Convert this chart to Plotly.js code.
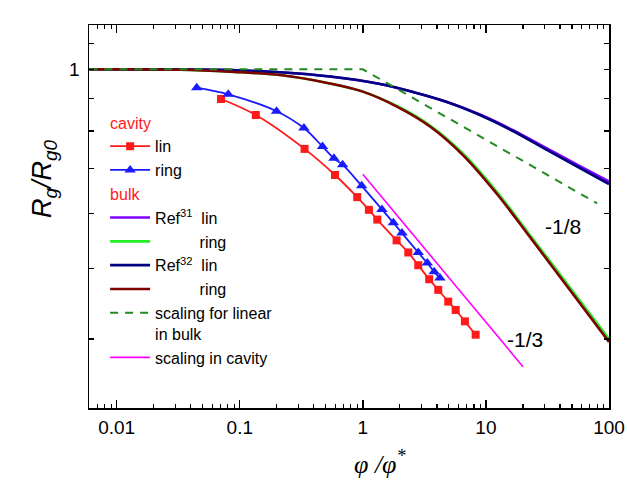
<!DOCTYPE html>
<html><head><meta charset="utf-8">
<script src="https://cdn.plot.ly/plotly-3.0.1.min.js"></script>
<style>html,body{margin:0;padding:0;background:#fff}#chart{width:627px;height:483px}</style>
</head><body><div id="chart"></div>
<script>
// ---- data ----
const cavLinX = [0.0704, 0.135, 0.336, 0.594, 0.90, 1.12, 1.31, 1.88, 2.34, 2.82, 3.46, 4.10, 4.94, 5.68, 6.75, 8.25];
const cavLinY = [0.886, 0.830, 0.723, 0.650, 0.594, 0.564, 0.542, 0.498, 0.474, 0.450, 0.425, 0.407, 0.388, 0.375, 0.358, 0.339];

const cavRingX = [0.0447, 0.0806, 0.199, 0.332, 0.470, 0.582, 0.685, 0.978, 1.43, 1.77, 2.08, 2.82, 3.34, 3.80, 4.23];
const cavRingY = [0.928, 0.903, 0.843, 0.787, 0.730, 0.696, 0.678, 0.622, 0.565, 0.535, 0.513, 0.474, 0.454, 0.438, 0.427];

const refLinX   = [0.006, 0.0327, 0.0833, 0.212, 0.540, 1.38, 2.55, 4.82, 8.93, 16.6, 31.3, 58.0, 100];
const ref31LinY = [1, 0.9992, 0.9971, 0.9879, 0.9711, 0.9418, 0.9117, 0.8752, 0.8318, 0.7805, 0.7242, 0.6741, 0.6328];
const ref32LinY = [1, 0.9992, 0.9971, 0.9879, 0.9711, 0.9418, 0.9117, 0.8752, 0.8300, 0.7776, 0.7198, 0.6688, 0.6266];

const refRingX   = [0.006, 0.0327, 0.0833, 0.212, 0.540, 1.0, 1.89, 3.51, 6.50, 12.3, 21.5, 50.9, 100];
const ref31RingY = [1, 0.998, 0.990, 0.977, 0.944, 0.913, 0.861, 0.7953, 0.7096, 0.6065, 0.5174, 0.4043, 0.3332];
const ref32RingY = [1, 0.998, 0.990, 0.977, 0.944, 0.913, 0.859, 0.792, 0.705, 0.6015, 0.5133, 0.4002, 0.3292];

const scaleBulkX = [0.006, 1, 80];
const scaleBulkY = [1, 1, 0.579];
const scaleCavX = [1, 20];
const scaleCavY = [0.652, 0.2976];

const xTickVals = [0.01, 0.1, 1, 10, 100];
const xTickText = ['0.01', '0.1', '1', '10', '100'];
const yTickVals = [1];
const yTickText = ['1'];
const yMinorVals = [10/9, 8/9, 7/9, 6/9, 5/9, 4/9, 3/9];

// minor x ticks (2..9 in each decade)
const xMinor = [];
for (let d = -3; d <= 1; d++) for (let k = 2; k <= 9; k++) {
  const v = k * Math.pow(10, d);
  if (v > 0.0059 && v < 100) xMinor.push(v);
}

const F = 'Liberation Sans, Arial, sans-serif';
const nb = '\u00a0';
const LF = 16;

const traces = [
  {x: cavLinX, y: cavLinY, mode: 'lines+markers', name: 'lin',
   legendgroup: 'cavity', legendgrouptitle: {text: 'cavity', font: {color: '#ff1a1a', size: LF, family: F}},
   line: {color: '#ff1a1a', width: 1.8, shape: 'spline'}, marker: {symbol: 'square', size: 8, color: '#ff1a1a'}},
  {x: cavRingX, y: cavRingY, mode: 'lines+markers', name: 'ring',
   legendgroup: 'cavity',
   line: {color: '#1a1aff', width: 1.8, shape: 'spline'}, marker: {symbol: 'triangle-up', size: 10, color: '#1a1aff'}},
  {x: refLinX, y: ref31LinY, mode: 'lines', name: 'Ref<sup>31</sup>' + nb + nb + 'lin',
   legendgroup: 'bulk', legendgrouptitle: {text: 'bulk', font: {color: '#ff1a1a', size: LF, family: F}},
   line: {color: '#8000ff', width: 2.6, shape: 'spline'}},
  {x: refRingX, y: ref31RingY, mode: 'lines', name: nb.repeat(10) + 'ring',
   legendgroup: 'bulk',
   line: {color: '#22ee22', width: 2.6, shape: 'spline'}},
  {x: refLinX, y: ref32LinY, mode: 'lines', name: 'Ref<sup>32</sup>' + nb + nb + 'lin',
   legendgroup: 'bulk',
   line: {color: '#000080', width: 2.6, shape: 'spline'}},
  {x: refRingX, y: ref32RingY, mode: 'lines', name: nb.repeat(10) + 'ring',
   legendgroup: 'bulk',
   line: {color: '#800000', width: 2.6, shape: 'spline'}},
  {x: scaleBulkX, y: scaleBulkY, mode: 'lines', name: 'scaling for linear<br>in bulk',
   legendgroup: 'bulk',
   line: {color: '#228b22', width: 2, dash: '8px,7px'}},
  {x: scaleCavX, y: scaleCavY, mode: 'lines', name: 'scaling in cavity',
   legendgroup: 'bulk',
   line: {color: '#ff00ff', width: 1.6}}
];

const layout = {
  width: 627, height: 483,
  margin: {l: 89, r: 18, t: 25, b: 75},
  paper_bgcolor: '#ffffff', plot_bgcolor: '#ffffff',
  font: {family: F, size: 18, color: '#000'},
  showlegend: true,
  legend: {x: 0.031, y: 0.79, xanchor: 'left', yanchor: 'top', bgcolor: 'rgba(0,0,0,0)',
           font: {family: F, size: LF, color: '#000'}, tracegroupgap: 0, valign: 'top',
           traceorder: 'grouped', itemwidth: 40},
  xaxis: {type: 'log', range: [-2.225, 2.0], showgrid: false, zeroline: false,
          showline: true, linecolor: '#000', linewidth: 1.5, mirror: 'allticks',
          ticks: 'inside', ticklen: 8, tickwidth: 1.3, tickcolor: '#000',
          tickmode: 'array', tickvals: xTickVals, ticktext: xTickText,
          tickfont: {family: F, size: 19}, ticklabelstandoff: 2,
          minor: {tickmode: 'array', tickvals: xMinor, ticks: 'inside', ticklen: 4, tickwidth: 1.1, tickcolor: '#000', showgrid: false}},
  yaxis: {type: 'log', range: [-0.5995, 0.0784], showgrid: false, zeroline: false,
          showline: true, linecolor: '#000', linewidth: 1.5, mirror: 'allticks',
          ticks: 'inside', ticklen: 5, tickwidth: 1.3, tickcolor: '#000',
          tickmode: 'array', tickvals: yTickVals, ticktext: yTickText,
          tickfont: {family: F, size: 19}, ticklabelstandoff: 4,
          minor: {tickmode: 'array', tickvals: yMinorVals, ticks: 'inside', ticklen: 5, tickwidth: 1.3, tickcolor: '#000', showgrid: false}},
  annotations: [
    {xref: 'x', yref: 'y', x: Math.log10(42.6), y: Math.log10(0.528), text: '-1/8', showarrow: false,
     font: {family: F, size: 21, color: '#000'}},
    {xref: 'x', yref: 'y', x: Math.log10(20.7), y: Math.log10(0.333), text: '-1/3', showarrow: false,
     font: {family: F, size: 21, color: '#000'}},
    {xref: 'paper', yref: 'paper', x: 0.5615, y: -0.1436, xanchor: 'center', yanchor: 'middle',
     text: 'φ /φ<sup>*</sup>', showarrow: false,
     font: {family: 'Liberation Serif, Times New Roman, serif', size: 26, color: '#000', style: 'italic'}},
    {xref: 'paper', yref: 'paper', x: -0.0865, y: 0.598, xanchor: 'center', yanchor: 'middle',
     text: 'R<sub>g</sub>/R<sub>g0</sub>', showarrow: false,
     textangle: -90, font: {family: F, size: 27, color: '#000', style: 'italic'}}
  ]
};

Plotly.newPlot('chart', traces, layout, {staticPlot: true, displayModeBar: false});
</script>
</body></html>
